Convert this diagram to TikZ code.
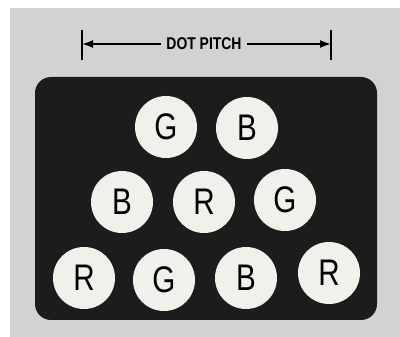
\documentclass[tikz,border=0pt]{standalone}
\usepackage{fontspec}
\setmainfont{Liberation Sans}
\newfontfamily\condfont[FakeStretch=0.8]{Liberation Sans}
\newfontfamily\condbold[FakeStretch=0.82]{Liberation Sans Bold}
\usetikzlibrary{arrows.meta}
\definecolor{panel}{HTML}{D2D2D0}
\definecolor{screen}{HTML}{1C1C1C}
\definecolor{dotfill}{HTML}{F2F0EB}
\tikzset{
  dotcirc/.style={circle, fill=dotfill, minimum size=62pt, inner sep=0pt,
    font=\condfont\fontsize{37}{37}\selectfont, text=black},
  tick/.style={line width=1.8pt},
  dimline/.style={line width=1.6pt, -{Latex[length=11pt,width=8pt]}},
}
\begin{document}
\begin{tikzpicture}[x=1pt,y=-1pt]
\useasboundingbox (0,0) rectangle (400,337);
\fill[white] (0,0) rectangle (400,337);
\fill[panel] (10,8) rectangle (400,337);
% dimension
\coordinate (lt1) at (82,30); \coordinate (lt2) at (82,60);
\coordinate (rt1) at (331,30); \coordinate (rt2) at (331,60);
\draw[tick] (lt1) -- (lt2);
\draw[tick] (rt1) -- (rt2);
\node[font=\condbold\fontsize{17}{17}\selectfont, inner sep=0pt] (lbl) at (204,44) {DOT PITCH};
\coordinate (la) at (82,44); \coordinate (ra) at (331,44);
\draw[dimline] ([xshift=-5pt]lbl.west) -- (la);
\draw[dimline] ([xshift=5pt]lbl.east) -- (ra);
% screen
\fill[screen, rounded corners=16pt] (35,77) rectangle (377,320);
% dots
\node[dotcirc] (g1) at (166,127) {G};
\node[dotcirc] (b1) at (247,128) {B};
\node[dotcirc] (b2) at (122,202) {B};
\node[dotcirc] (r2) at (204,202) {R};
\node[dotcirc] (g2) at (285,200) {G};
\node[dotcirc] (r3) at (84,278) {R};
\node[dotcirc] (g3) at (164,280) {G};
\node[dotcirc] (b3) at (246,278) {B};
\node[dotcirc] (r4) at (329,273) {R};
\end{tikzpicture}
\end{document}
